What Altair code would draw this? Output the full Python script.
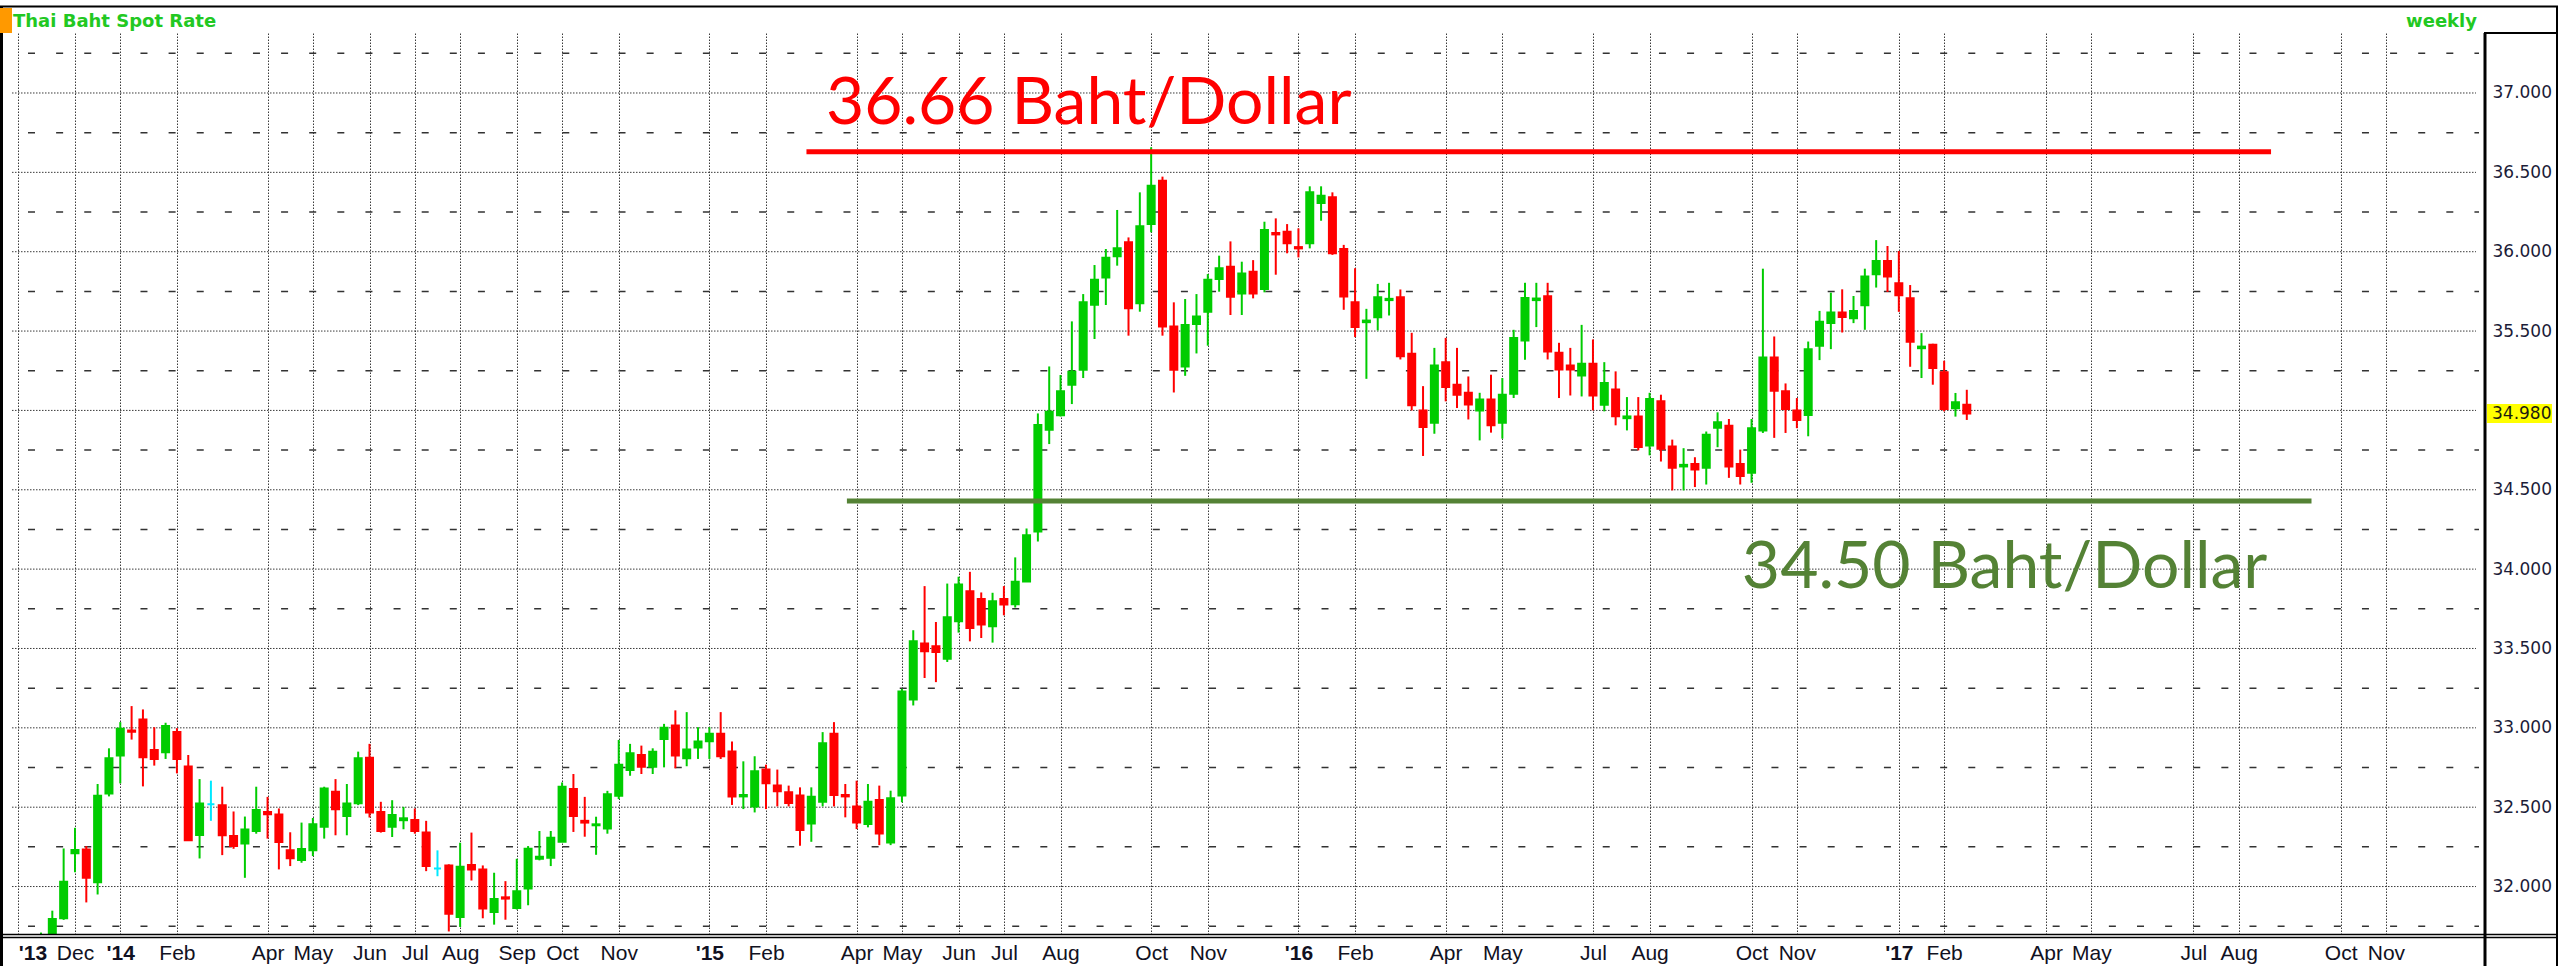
import json
import datetime as dt
import altair as alt
import pandas as pd

# ---------------- data ----------------
first_week = "2013-11-11"
opens = [31.55, 31.62, 31.80, 32.21, 32.234, 32.027, 32.586, 32.825, 32.983, 33.053,
         32.861, 32.846, 32.973, 32.757, 32.325, 32.519, 32.513, 32.319, 32.272, 32.35,
         32.47, 32.454, 32.228, 32.167, 32.228, 32.376, 32.597, 32.445, 32.525, 32.812,
         32.47, 32.376, 32.418, 32.42, 32.34, 32.114, 32.133, 31.808, 32.135, 32.108,
         31.84, 31.932, 31.865, 31.987, 32.175, 32.181, 32.283, 32.614, 32.414, 32.386,
         32.365, 32.572, 32.734, 32.829, 32.755, 32.93, 33.015, 32.808, 32.876, 32.916,
         32.962, 32.851, 32.568, 32.505, 32.737, 32.636, 32.594, 32.573, 32.398, 32.535,
         32.962, 32.577, 32.505, 32.394, 32.545, 32.278, 32.573, 33.179, 33.531, 33.514,
         33.436, 33.672, 33.861, 33.811, 33.64, 33.811, 33.779, 33.922, 34.237, 34.878,
         34.97, 35.162, 35.256, 35.666, 35.838, 35.971, 36.059, 35.676, 36.174, 36.447,
         35.529, 35.277, 35.544, 35.622, 35.828, 35.905, 35.737, 35.874, 35.765, 36.118,
         36.126, 36.029, 36.053, 36.307, 36.343, 36.017, 35.682, 35.556, 35.587, 35.695,
         35.713, 35.357, 35.0, 34.922, 35.304, 35.162, 35.111, 35.0, 35.069, 34.922,
         35.105, 35.441, 35.695, 35.72, 35.363, 35.283, 35.22, 35.294, 35.036, 35.132,
         34.951, 34.962, 34.779, 35.057, 34.772, 34.647, 34.663, 34.638, 34.89, 34.904,
         34.663, 34.607, 34.873, 35.334, 35.12, 34.999, 34.971, 35.407, 35.55, 35.617,
         35.581, 35.663, 35.858, 35.941, 35.801, 35.707, 35.392, 35.413, 35.24, 35.013,
         35.036]
highs = [31.71, 31.848, 32.24, 32.37, 32.255, 32.646, 32.871, 33.036, 33.137, 33.116,
         33.004, 33.032, 32.998, 32.829, 32.677, 32.667, 32.629, 32.473, 32.441, 32.629,
         32.565, 32.492, 32.342, 32.403, 32.432, 32.629, 32.677, 32.646, 32.85, 32.899,
         32.534, 32.544, 32.502, 32.492, 32.414, 32.228, 32.14, 32.276, 32.34, 32.133,
         32.087, 32.034, 32.175, 32.255, 32.35, 32.35, 32.656, 32.709, 32.565, 32.44,
         32.603, 32.924, 32.899, 32.888, 32.871, 33.025, 33.11, 33.099, 33.004, 33.004,
         33.099, 32.914, 32.789, 32.821, 32.768, 32.737, 32.636, 32.625, 32.625, 32.973,
         33.036, 32.646, 32.667, 32.646, 32.636, 32.604, 33.246, 33.615, 33.893, 33.667,
         33.909, 33.952, 33.983, 33.853, 33.851, 33.893, 34.074, 34.256, 34.981, 35.277,
         35.223, 35.561, 35.733, 35.916, 36.017, 36.263, 36.09, 36.374, 36.658, 36.473,
         35.681, 35.702, 35.733, 35.859, 35.975, 36.065, 35.937, 35.947, 36.189, 36.21,
         36.174, 36.147, 36.412, 36.412, 36.374, 36.043, 35.896, 35.64, 35.797, 35.804,
         35.762, 35.489, 35.153, 35.394, 35.457, 35.394, 35.214, 35.111, 35.225, 35.204,
         35.508, 35.804, 35.804, 35.804, 35.426, 35.394, 35.539, 35.447, 35.304, 35.246,
         35.084, 35.084, 35.111, 35.099, 34.816, 34.762, 34.705, 34.867, 34.988, 34.946,
         34.753, 34.946, 35.893, 35.466, 35.17, 35.078, 35.434, 35.627, 35.742, 35.763,
         35.721, 35.893, 36.073, 36.036, 36.004, 35.79, 35.487, 35.42, 35.313, 35.11,
         35.13]
lows = [31.50, 31.58, 31.79, 32.09, 31.90, 31.95, 32.568, 32.65, 32.926, 32.631,
        32.762, 32.804, 32.713, 32.29, 32.177, 32.414, 32.198, 32.238, 32.055, 32.333,
        32.302, 32.108, 32.129, 32.15, 32.192, 32.302, 32.323, 32.323, 32.513, 32.435,
        32.34, 32.312, 32.361, 32.333, 32.097, 32.065, 31.717, 31.745, 32.038, 31.80,
        31.76, 31.791, 31.855, 31.882, 32.165, 32.129, 32.283, 32.344, 32.314, 32.2,
        32.333, 32.551, 32.698, 32.709, 32.709, 32.751, 32.745, 32.758, 32.804, 32.804,
        32.804, 32.514, 32.488, 32.467, 32.488, 32.505, 32.505, 32.257, 32.282, 32.505,
        32.505, 32.436, 32.362, 32.373, 32.261, 32.261, 32.531, 33.141, 33.314, 33.288,
        33.415, 33.6, 33.545, 33.566, 33.537, 33.709, 33.758, 33.922, 34.174, 34.788,
        34.962, 35.04, 35.204, 35.45, 35.664, 35.912, 35.471, 35.622, 36.122, 35.471,
        35.113, 35.218, 35.359, 35.408, 35.748, 35.601, 35.601, 35.706, 35.744, 35.855,
        35.99, 35.964, 36.021, 36.195, 35.98, 35.634, 35.462, 35.199, 35.504, 35.598,
        35.321, 35.0, 34.713, 34.853, 35.057, 35.015, 34.943, 34.811, 34.86, 34.822,
        35.078, 35.319, 35.525, 35.321, 35.078, 35.094, 35.088, 35.0, 34.994, 34.906,
        34.874, 34.748, 34.717, 34.678, 34.496, 34.496, 34.517, 34.533, 34.768, 34.575,
        34.533, 34.544, 34.858, 34.827, 34.858, 34.888, 34.837, 35.317, 35.386, 35.491,
        35.55, 35.508, 35.774, 35.746, 35.621, 35.275, 35.204, 35.162, 34.994, 34.961,
        34.94]
closes = [31.66, 31.795, 32.03, 32.23, 32.055, 32.572, 32.808, 32.994, 32.975, 32.814,
          32.804, 33.011, 32.804, 32.291, 32.523, 32.519, 32.323, 32.255, 32.359, 32.483,
          32.456, 32.281, 32.179, 32.236, 32.392, 32.618, 32.487, 32.523, 32.808, 32.466,
          32.35, 32.451, 32.43, 32.35, 32.129, 32.114, 31.829, 32.124, 32.108, 31.861,
          31.922, 31.924, 31.97, 32.238, 32.188, 32.308, 32.629, 32.445, 32.403, 32.392,
          32.582, 32.768, 32.84, 32.755, 32.85, 33.0, 32.825, 32.863, 32.914, 32.962,
          32.821, 32.568, 32.577, 32.726, 32.651, 32.6, 32.526, 32.356, 32.566, 32.903,
          32.577, 32.568, 32.404, 32.535, 32.335, 32.556, 33.229, 33.545, 33.482, 33.478,
          33.697, 33.903, 33.629, 33.651, 33.798, 33.777, 33.92, 34.214, 34.908, 34.992,
          35.12, 35.244, 35.681, 35.824, 35.962, 36.021, 35.643, 36.16, 36.416, 35.529,
          35.256, 35.538, 35.591, 35.824, 35.895, 35.716, 35.863, 35.737, 36.137, 36.109,
          36.053, 36.021, 36.374, 36.353, 35.99, 35.718, 35.525, 35.566, 35.713, 35.703,
          35.342, 35.032, 34.895, 35.283, 35.147, 35.099, 35.038, 35.069, 34.906, 35.099,
          35.457, 35.709, 35.705, 35.371, 35.258, 35.258, 35.294, 35.094, 35.172, 34.964,
          34.962, 34.769, 35.072, 34.758, 34.638, 34.657, 34.628, 34.846, 34.925, 34.647,
          34.586, 34.888, 35.334, 35.124, 35.009, 34.94, 35.386, 35.558, 35.617, 35.589,
          35.627, 35.843, 35.941, 35.843, 35.726, 35.432, 35.402, 35.267, 35.009, 35.052,
          34.98]

tick_dates = ["2013-10-28", "2013-12-02", "2013-12-30", "2014-02-03", "2014-03-31",
              "2014-04-28", "2014-06-02", "2014-06-30", "2014-07-28", "2014-09-01",
              "2014-09-29", "2014-11-03", "2014-12-29", "2015-02-02", "2015-03-30",
              "2015-04-27", "2015-06-01", "2015-06-29", "2015-08-03", "2015-09-28",
              "2015-11-02", "2015-12-28", "2016-02-01", "2016-03-28", "2016-05-02",
              "2016-06-27", "2016-08-01", "2016-10-03", "2016-10-31", "2017-01-02",
              "2017-01-30", "2017-04-03", "2017-05-01", "2017-07-03", "2017-07-31",
              "2017-10-02", "2017-10-30"]
tick_labels = ["'13", "Dec", "'14", "Feb", "Apr", "May", "Jun", "Jul", "Aug", "Sep",
               "Oct", "Nov", "'15", "Feb", "Apr", "May", "Jun", "Jul", "Aug", "Oct",
               "Nov", "'16", "Feb", "Apr", "May", "Jul", "Aug", "Oct", "Nov", "'17",
               "Feb", "Apr", "May", "Jul", "Aug", "Oct", "Nov"]
year_ticks = [d for d, l in zip(tick_dates, tick_labels) if l.startswith("'")]

y_label_values = [32.0, 32.5, 33.0, 33.5, 34.0, 34.5, 35.5, 36.0, 36.5, 37.0]
major_levels = [32.0, 32.5, 33.0, 33.5, 34.0, 34.5, 35.0, 35.5, 36.0, 36.5, 37.0]
minor_levels = [31.75, 32.25, 32.75, 33.25, 33.75, 34.25, 34.75, 35.25, 35.75,
                36.25, 36.75, 37.25]

last_price = [34.98]
last_label = ["34.980"]

ann_start = ["2015-02-27", "2015-03-24"]
ann_end = ["2017-08-20", "2017-09-14"]
ann_level = [36.63, 34.43]
ann_color = ["#ff0000", "#548235"]
ann_text = ["36.66 Baht/Dollar", "34.50 Baht/Dollar"]
ann_text_x = ["2015-03-11", "2016-09-27"]
ann_text_y = [36.805, 33.881]

# ---------------- frames ----------------
start = dt.date.fromisoformat(first_week)
dates = [(start + dt.timedelta(weeks=i)).isoformat() for i in range(len(opens))]
dirs = ["up" if c > o else ("down" if c < o else "flat") for o, c in zip(opens, closes)]
df = pd.DataFrame({"date": dates, "open": opens, "high": highs, "low": lows,
                   "close": closes, "dir": dirs})

W, H = 2482, 901

def dtm(s, hours=0):
    y, m, d = (int(p) for p in s.split("-"))
    return alt.DateTime(year=y, month=m, date=d, hours=hours, utc=True)

xscale = alt.Scale(type="utc", domain=[dtm("2013-10-21"), dtm("2017-12-26", 12)])
yscale = alt.Scale(domain=[31.701, 37.378], nice=False, zero=False)

label_expr = (f"{json.dumps(tick_labels)}[indexof({json.dumps(tick_dates)}, "
              f"utcFormat(datum.value, '%Y-%m-%d'))]")
weight_expr = (f"indexof({json.dumps(year_ticks)}, utcFormat(datum.value, '%Y-%m-%d')) >= 0"
               f" ? 'bold' : 'normal'")
align_expr = (f"utcFormat(datum.value, '%Y-%m-%d') == '{tick_dates[0]}' ? 'left' : 'center'")

xaxis = alt.Axis(values=[dtm(d) for d in tick_dates], labelExpr=label_expr,
                 labelFontWeight={"expr": weight_expr}, labelAlign={"expr": align_expr},
                 title=None,
                 grid=True, gridDash=[1.5, 1.5], gridColor="#3a3a3a", gridWidth=1,
                 domain=True, domainColor="#000000", domainWidth=1.5, offset=3,
                 ticks=False, labelPadding=5, labelFlush=False, labelOverlap=False,
                 labelFont="Liberation Sans Narrow, Arial Narrow, Liberation Sans",
                 labelFontSize=21, labelColor="#111122")
yaxis = alt.Axis(values=y_label_values, format=".3f", orient="right", title=None,
                 grid=False, domain=False, ticks=False, labelPadding=8,
                 labelFont="DejaVu Sans", labelFontSize=17, labelColor="#1c1c38",
                 labelOverlap=False, labelFlush=False)

cscale = alt.Scale(domain=["up", "down", "flat"], range=["#00cc00", "#ff0000", "#00e8ff"])

base = alt.Chart(df)

wicks = base.mark_rule(strokeWidth=2, clip=True).encode(
    x=alt.X("date:T", scale=xscale, axis=xaxis),
    y=alt.Y("low:Q", scale=yscale, axis=yaxis),
    y2="high:Q",
    color=alt.Color("dir:N", scale=cscale, legend=None),
)
bodies = base.mark_bar(size=7, strokeWidth=2, clip=True).encode(
    x=alt.X("date:T", scale=xscale, axis=xaxis),
    y=alt.Y("open:Q", scale=yscale, axis=yaxis),
    y2="close:Q",
    color=alt.Color("dir:N", scale=cscale, legend=None),
    stroke=alt.Stroke("dir:N", scale=cscale, legend=None),
)

major = alt.Chart(pd.DataFrame({"lvl": major_levels})).mark_rule(
    strokeDash=[1.5, 1.5], color="#3a3a3a", strokeWidth=1).encode(
    y=alt.Y("lvl:Q", scale=yscale, axis=yaxis), x=alt.value(10), x2=alt.value(W - 8))
minor = alt.Chart(pd.DataFrame({"lvl": minor_levels})).mark_rule(
    strokeDash=[7, 21.12], strokeDashOffset=12.12, color="#333333", strokeWidth=1.5).encode(
    y=alt.Y("lvl:Q", scale=yscale, axis=yaxis), x=alt.value(10), x2=alt.value(W - 5))

ann = pd.DataFrame({"x1": ann_start, "x2": ann_end, "lvl": ann_level, "c": ann_color,
                    "t": ann_text, "tx": ann_text_x, "ty": ann_text_y})
ann_lines = alt.Chart(ann).mark_rule(strokeWidth=5).encode(
    x=alt.X("x1:T", scale=xscale, axis=xaxis), x2="x2:T",
    y=alt.Y("lvl:Q", scale=yscale, axis=yaxis),
    color=alt.Color("c:N", scale=None))
ann_texts = alt.Chart(ann).mark_text(align="left", baseline="alphabetic", font="Lato",
                                     fontSize=66).encode(
    x=alt.X("tx:T", scale=xscale, axis=xaxis),
    y=alt.Y("ty:Q", scale=yscale, axis=yaxis),
    text="t:N", color=alt.Color("c:N", scale=None))

tag = pd.DataFrame({"p": last_price, "t": last_label})
tag_bg = alt.Chart(tag).mark_rule(strokeWidth=19, color="#ffff00").encode(
    y=alt.Y("p:Q", scale=yscale, axis=yaxis), x=alt.value(W + 3), x2=alt.value(W + 68))
tag_txt = alt.Chart(tag).mark_text(align="left", baseline="middle", font="DejaVu Sans",
                                   fontSize=17, color="#1c1c10").encode(
    y=alt.Y("p:Q", scale=yscale, axis=yaxis), x=alt.value(W + 8), text="t:N")

one = pd.DataFrame({"k": [0]})

def frame(x, x2, y, y2, width, color="#000000"):
    return alt.Chart(one).mark_rule(strokeWidth=width, color=color).encode(
        x=alt.value(x), x2=alt.value(x2), y=alt.value(y), y2=alt.value(y2))

frames = [
    frame(-2, 2556, -26.5, -26.5, 2),          # outer top
    frame(-0.5, -0.5, -27, H + 33, 3),         # outer left
    frame(2555, 2555, -27, H + 33, 2),         # outer right
    frame(W + 1, W + 1, 0, H + 33, 3),         # price panel left
    frame(W, 2556, 0, 0, 2),                   # price panel top
    frame(0, 2556, H + 0.5, H + 0.5, 1.5),     # bottom line 1
    frame(W, 2556, H + 3.5, H + 3.5, 1.5),     # bottom line 2 (panel)
]

orange = alt.Chart(one).mark_rect(color="#ff9900").encode(
    x=alt.value(-2), x2=alt.value(10), y=alt.value(-25), y2=alt.value(0))

title = alt.Chart(pd.DataFrame({"t": ["Thai Baht Spot Rate"]})).mark_text(
    align="left", baseline="alphabetic", font="DejaVu Sans", fontWeight="bold",
    fontSize=18, color="#22c822").encode(x=alt.value(11), y=alt.value(-6), text="t:N")
weekly = alt.Chart(pd.DataFrame({"t": ["weekly"]})).mark_text(
    align="right", baseline="alphabetic", font="DejaVu Sans", fontWeight="bold",
    fontSize=18, color="#22c822").encode(x=alt.value(W - 7), y=alt.value(-6), text="t:N")

chart = alt.layer(
    minor, major, wicks, bodies, ann_lines, ann_texts, tag_bg, tag_txt,
    *frames, orange, title, weekly
).properties(
    width=W, height=H,
    autosize=alt.AutoSizeParams(type="none"),
    padding={"left": 2, "top": 33, "right": 76, "bottom": 32},
    background="#ffffff",
).configure_view(stroke=None)

chart.save("out.html", embed_options={"renderer": "svg", "actions": False})
